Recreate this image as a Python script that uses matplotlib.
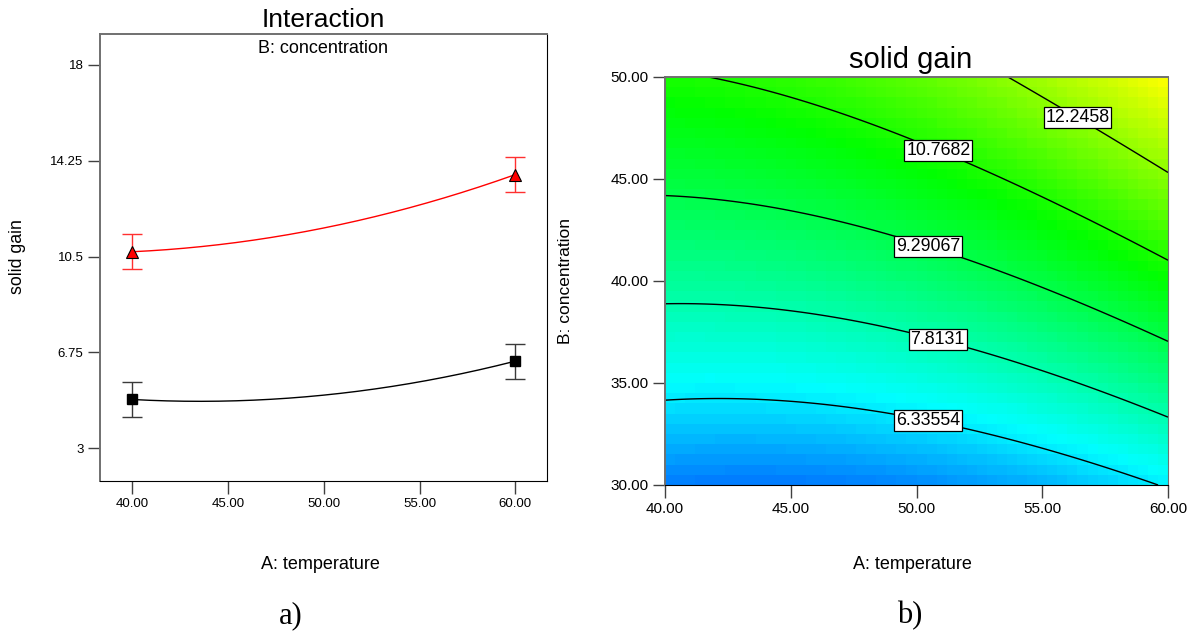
import numpy as np
import matplotlib.pyplot as plt
from matplotlib.colors import LinearSegmentedColormap

plt.rcParams['font.family'] = ['Liberation Sans', 'DejaVu Sans']

# fitted quadratic for solid gain in coded units a=(T-50)/10, b=(C-40)/10
# terms: intercept, A, B, AB, A^2, B^2
coef = [8.69, 1.13, 3.27, 0.38, 0.58, -0.34]

temp_points = [40.0, 60.0]
conc_low, conc_high = 30.0, 50.0
lsd_half = 0.68

temp_ticks = [40, 45, 50, 55, 60]
gain_ticks = [3, 6.75, 10.5, 14.25, 18]
gain_ticklabels = ['3', '6.75', '10.5', '14.25', '18']
conc_ticks = [30, 35, 40, 45, 50]

contour_levels = [6.33554, 7.8131, 9.29067, 10.7682, 12.2458]
label_spots = [(50.5, 33.4), (50.9, 37.4), (50.5, 41.9), (50.9, 46.5), (56.5, 48.2)]


def solid_gain(T, C):
    a = (np.asarray(T, dtype=float) - 50) / 10
    b = (np.asarray(C, dtype=float) - 40) / 10
    c0, cA, cB, cAB, cAA, cBB = coef
    return c0 + cA * a + cB * b + cAB * a * b + cAA * a ** 2 + cBB * b ** 2


W, H = 1195, 635
fig = plt.figure(figsize=(W / 100, H / 100), dpi=100)


def box(x0, y0, x1, y1):
    return [x0 / W, 1 - y1 / H, (x1 - x0) / W, (y1 - y0) / H]


def style_spines(ax, size):
    for s in ['left', 'top']:
        ax.spines[s].set_color('#707070')
        ax.spines[s].set_linewidth(1.4)
    ax.spines['right'].set_color('black')
    ax.spines['bottom'].set_color('black')
    ax.tick_params(direction='out', length=9, width=1, color='#404040',
                   labelsize=size, pad=3)


# ---- a) interaction plot ----
ax1 = fig.add_axes(box(100, 34, 547, 481))
T = np.linspace(40, 60, 200)

ax1.plot(T, solid_gain(T, conc_low), color='black', lw=1)
y_low = solid_gain(temp_points, conc_low)
ax1.errorbar(temp_points, y_low, yerr=lsd_half, fmt='none', ecolor='#3a3a3a',
             elinewidth=1, capsize=7, capthick=1)
ax1.plot(temp_points, y_low, ls='none', marker='s', ms=6.5, mfc='black',
         mec='black')

ax1.plot(T, solid_gain(T, conc_high), color='red', lw=1)
y_high = solid_gain(temp_points, conc_high)
ax1.errorbar(temp_points, y_high, yerr=lsd_half, fmt='none', ecolor='#ff3030',
             elinewidth=1, capsize=7, capthick=1)
ax1.plot(temp_points, y_high, ls='none', marker='^', ms=8, mfc='red',
         mec='black', mew=0.8)

ax1.set_xlim(38.32, 61.65)
ax1.set_ylim(1.72, 19.21)
ax1.set_xticks(temp_ticks)
ax1.set_xticklabels(['%.2f' % t for t in temp_ticks])
ax1.set_yticks(gain_ticks)
ax1.set_yticklabels(gain_ticklabels)
style_spines(ax1, 9.5)
ax1.text(0.5, 1 - 19 / 447, 'B: concentration', transform=ax1.transAxes,
         ha='center', va='baseline', fontsize=13)

fig.text(323.5 / W, 1 - 27 / H, 'Interaction', ha='center', va='baseline',
         fontsize=19)
fig.text(320 / W, 1 - 569 / H, 'A: temperature', ha='center',
         va='baseline', fontsize=13)
fig.text(17 / W, 1 - 257 / H, 'solid gain', ha='center', va='center',
         rotation=90, fontsize=12.8)

# ---- b) contour plot ----
ax2 = fig.add_axes(box(665, 77, 1168, 485))

colors = [(0, 0, 1), (0, 1, 1), (0, 1, 0), (1, 1, 0), (1, 0, 0)]
vmin, vmax = 3.3, 17.0
nodes = [0, (6.6 - vmin) / (vmax - vmin), (10.4 - vmin) / (vmax - vmin),
         (13.7 - vmin) / (vmax - vmin), 1]
cmap = LinearSegmentedColormap.from_list('de', list(zip(nodes, colors)))

te = np.linspace(40, 60, 51)
ce = np.linspace(30, 50, 41)
tc = (te[:-1] + te[1:]) / 2
cc = (ce[:-1] + ce[1:]) / 2
TC, CC = np.meshgrid(tc, cc)
ax2.pcolormesh(te, ce, solid_gain(TC, CC), cmap=cmap, vmin=vmin, vmax=vmax,
               shading='flat')

tf = np.linspace(40, 60, 300)
cf = np.linspace(30, 50, 300)
TF, CF = np.meshgrid(tf, cf)
cs = ax2.contour(TF, CF, solid_gain(TF, CF), levels=contour_levels,
                 colors='black', linewidths=1)
labels = ax2.clabel(cs, inline=False, manual=label_spots,
                    fmt={lv: str(lv) for lv in contour_levels}, fontsize=12.8)
for t in labels:
    t.set_rotation(0)
    t.set_color('black')
    t.set_bbox(dict(facecolor='white', edgecolor='black', lw=0.9,
                    boxstyle='square,pad=0.1'))

ax2.set_xlim(40, 60)
ax2.set_ylim(30, 50)
ax2.set_xticks(temp_ticks)
ax2.set_xticklabels(['%.2f' % t for t in temp_ticks])
ax2.set_yticks(conc_ticks)
ax2.set_yticklabels(['%.2f' % c for c in conc_ticks])
style_spines(ax2, 11)
ax2.spines['right'].set_color('#707070')

fig.text(910.5 / W, 1 - 68 / H, 'solid gain', ha='center', va='baseline',
         fontsize=21)
fig.text(912 / W, 1 - 569 / H, 'A: temperature', ha='center',
         va='baseline', fontsize=13)
fig.text(566 / W, 1 - 281 / H, 'B: concentration', ha='center',
         va='center', rotation=90, fontsize=12.5)

fig.text(291 / W, 1 - 623 / H, 'a)', ha='center', va='baseline',
         fontsize=22, family='Liberation Serif')
fig.text(910 / W, 1 - 623 / H, 'b)', ha='center', va='baseline',
         fontsize=22, family='Liberation Serif')

fig.savefig('out.png', dpi=100)
